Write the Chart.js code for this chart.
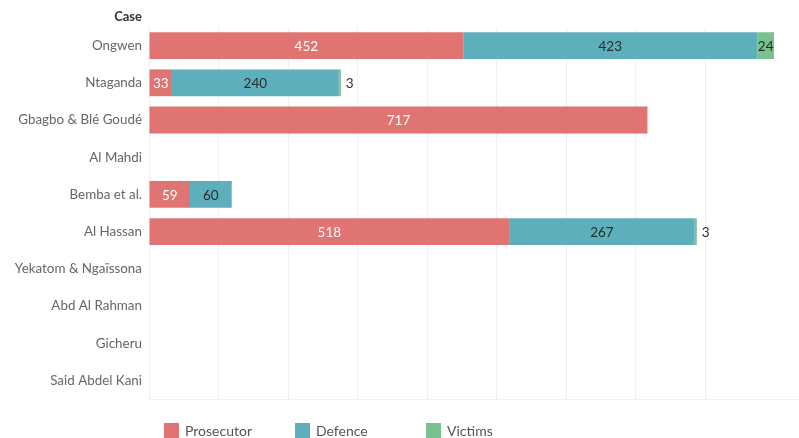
<!DOCTYPE html>
<html>
<head>
<meta charset="utf-8">
<script src="https://cdn.jsdelivr.net/npm/chart.js@4.4.1/dist/chart.umd.min.js"></script>
<style>
  html, body { margin: 0; padding: 0; background: #fff; }
  #wrap { position: relative; width: 799px; height: 438px; }
</style>
</head>
<body>
<div id="wrap"><canvas id="chart" width="799" height="438"></canvas></div>
<script>
// Filings per party, by case
const cases = [
  'Ongwen', 'Ntaganda', 'Gbagbo & Blé Goudé', 'Al Mahdi', 'Bemba et al.',
  'Al Hassan', 'Yekatom & Ngaïssona', 'Abd Al Rahman', 'Gicheru', 'Said Abdel Kani'
];
const prosecutor = [452, 33, 717, null, 59, 518, null, null, null, null];
const defence    = [423, 240, null, null, 60, 267, null, null, null, null];
const victims    = [24, 3, null, null, null, 3, null, null, null, null];

const seriesNames  = ['Prosecutor', 'Defence', 'Victims'];
const seriesColors = ['#e07472', '#5dafbc', '#78c290'];
const labelColors  = ['#ffffff', '#2b2b2b', '#2b2b2b'];

const FONT = 'Lato, "Open Sans", sans-serif';

// Values printed on each segment; very thin segments get their value just past the bar end
const valueLabels = {
  id: 'valueLabels',
  afterDatasetsDraw(chart) {
    const ctx = chart.ctx;
    ctx.save();
    ctx.font = '13.5px ' + FONT;
    ctx.textBaseline = 'middle';
    chart.data.datasets.forEach((ds, di) => {
      const meta = chart.getDatasetMeta(di);
      meta.data.forEach((bar, i) => {
        const v = ds.data[i];
        if (v === null || v === undefined) return;
        const left = Math.min(bar.x, bar.base);
        const w = Math.abs(bar.x - bar.base);
        const txt = String(v);
        if (w < 8) {
          ctx.fillStyle = '#2b2b2b';
          ctx.textAlign = 'left';
          ctx.fillText(txt, left + w + 5, bar.y + 1);
        } else {
          ctx.fillStyle = labelColors[di];
          ctx.textAlign = 'center';
          ctx.fillText(txt, left + w / 2, bar.y + 1);
        }
      });
    });
    ctx.restore();
  }
};

// Row header above the case names, and the colour key beneath the plot
const headerAndKey = {
  id: 'headerAndKey',
  afterDraw(chart) {
    const ctx = chart.ctx;
    const area = chart.chartArea;
    ctx.save();
    ctx.font = 'bold 13px ' + FONT;
    ctx.fillStyle = '#333333';
    ctx.textAlign = 'right';
    ctx.textBaseline = 'middle';
    ctx.fillText('Case', area.left - 7, 17);

    ctx.font = '14px ' + FONT;
    ctx.textAlign = 'left';
    chart.data.datasets.forEach((ds, i) => {
      const x = area.left + 15 + i * 131;
      ctx.fillStyle = ds.backgroundColor;
      ctx.fillRect(x, 423, 15, 15);
      ctx.fillStyle = '#555555';
      ctx.fillText(ds.label, x + 21, 431);
    });
    ctx.restore();
  }
};

new Chart(document.getElementById('chart'), {
  type: 'bar',
  data: {
    labels: cases,
    datasets: [prosecutor, defence, victims].map((d, i) => ({
      label: seriesNames[i],
      data: d,
      backgroundColor: seriesColors[i],
      borderWidth: 0,
      barPercentage: 0.72,
      categoryPercentage: 1.0
    }))
  },
  options: {
    indexAxis: 'y',
    responsive: false,
    animation: false,
    layout: { padding: { top: 27, bottom: 39, left: 0, right: 0 } },
    plugins: {
      legend: { display: false },
      tooltip: { enabled: false }
    },
    scales: {
      x: {
        stacked: true,
        min: 0,
        max: 935,
        ticks: { display: false, stepSize: 100 },
        afterBuildTicks(scale) {
          scale.ticks = scale.ticks.filter(t => t.value % 100 === 0);
        },
        afterFit(scale) { scale.height = 0; },
        grid: { color: '#efefef', lineWidth: 1, drawTicks: false },
        border: { display: true, color: '#efefef' }
      },
      y: {
        stacked: true,
        grid: { display: false, drawTicks: false },
        border: { display: false },
        ticks: {
          color: '#666666',
          padding: 7,
          font: { family: FONT, size: 13.4 }
        },
        afterFit(scale) { scale.width = 149; }
      }
    }
  },
  plugins: [valueLabels, headerAndKey]
});
</script>
</body>
</html>
